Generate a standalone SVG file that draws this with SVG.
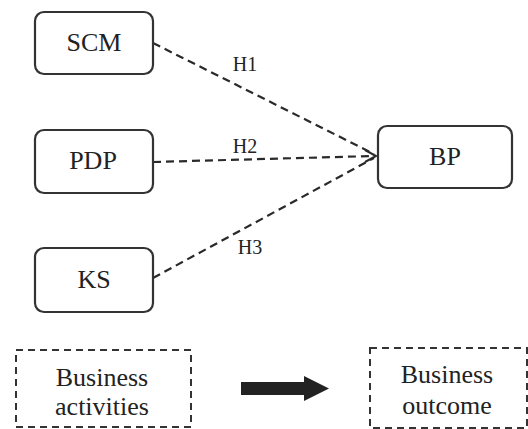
<svg xmlns="http://www.w3.org/2000/svg" width="528" height="429" viewBox="0 0 528 429" font-family="Liberation Serif, Times New Roman, serif">
<defs>
<style>
.box{fill:#fff;stroke:#333;stroke-width:2.2}
.dbox{fill:#fff;stroke:#333;stroke-width:2;stroke-dasharray:7 5}
.conn{fill:none;stroke:#2a2a2a;stroke-width:2.2;stroke-dasharray:8 5}
.head{fill:none;stroke:#2a2a2a;stroke-width:2}
text{font-family:"Liberation Serif","Times New Roman",serif;fill:#222;text-anchor:middle}
</style>
</defs>
<rect width="528" height="429" fill="#fff"/>
<g id="connectors">
<line class="conn" x1="153" y1="43" x2="374" y2="154"/>
<line class="conn" x1="153" y1="162" x2="374" y2="156"/>
<line class="conn" x1="153" y1="278" x2="374" y2="158"/>
<path class="head" d="M365,150 L376,156 L365,162"/>
<text x="245" y="71" font-size="20" style="font-family:'Liberation Serif',serif">H1</text>
<text x="245" y="153" font-size="20" style="font-family:'Liberation Serif',serif">H2</text>
<text x="250" y="254" font-size="20" style="font-family:'Liberation Serif',serif">H3</text>
<path d="M241,382 H304 V376 L329,388.5 L304,401 V395 H241 Z" fill="#222"/>
</g>
<g id="SCM">
<rect class="box" x="35" y="12" width="118" height="62" rx="9"/>
<text x="94" y="51" font-size="26" style="font-family:'Liberation Serif',serif">SCM</text>
</g>
<g id="PDP">
<rect class="box" x="35" y="130" width="118" height="63" rx="9"/>
<text x="93" y="169" font-size="26" style="font-family:'Liberation Serif',serif">PDP</text>
</g>
<g id="KS">
<rect class="box" x="35" y="248" width="118" height="64" rx="9"/>
<text x="94" y="288" font-size="26" style="font-family:'Liberation Serif',serif">KS</text>
</g>
<g id="BP">
<rect class="box" x="378" y="126" width="134" height="62" rx="9"/>
<text x="445" y="165" font-size="26" style="font-family:'Liberation Serif',serif">BP</text>
</g>
<g id="BusinessActivities">
<rect class="dbox" x="16" y="350" width="175" height="77"/>
<text x="102" y="386" font-size="26" style="font-family:'Liberation Serif',serif">Business</text>
<text x="102" y="415" font-size="26" style="font-family:'Liberation Serif',serif">activities</text>
</g>
<g id="BusinessOutcome">
<rect class="dbox" x="370" y="348" width="157" height="80"/>
<text x="447" y="383" font-size="26" style="font-family:'Liberation Serif',serif">Business</text>
<text x="447" y="414" font-size="26" style="font-family:'Liberation Serif',serif">outcome</text>
</g>
</svg>
